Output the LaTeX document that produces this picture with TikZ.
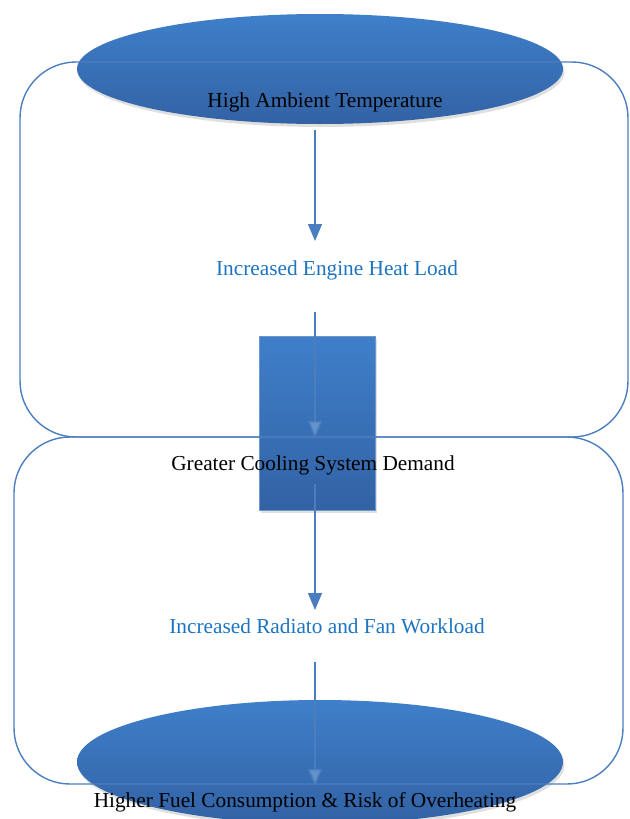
\documentclass[tikz,border=0pt]{standalone}
\usepackage{fontspec}
\setmainfont{Liberation Serif}
\usetikzlibrary{arrows.meta,shadows,shapes.geometric}
\definecolor{linec}{RGB}{74,126,191}
\definecolor{filltop}{RGB}{63,127,202}
\definecolor{fillbot}{RGB}{50,98,164}
\definecolor{btext}{RGB}{28,116,192}
\tikzset{
  frame/.style={draw=linec, line width=1.4pt, rounded corners=56pt},
  blob/.style={ellipse, draw=none, top color=filltop, bottom color=fillbot,
    drop shadow={opacity=0.25, shadow xshift=1.5pt, shadow yshift=-3pt}},
  blockbox/.style={rectangle, draw=linec!80!white, line width=0.6pt, top color=filltop, bottom color=fillbot,
    drop shadow={opacity=0.25, shadow xshift=2pt, shadow yshift=-3pt}},
  txt/.style={font=\fontsize{21.3}{25}\selectfont, text=black, inner sep=0pt},
  btxt/.style={font=\fontsize{21.3}{25}\selectfont, text=btext, inner sep=0pt},
  arr/.style={draw=linec, line width=1.4pt, -{Triangle[width=14pt,length=17pt]}},
  arrfaint/.style={draw=linec, line width=1.4pt, -{Triangle[width=14pt,length=17pt,fill=linec!85!white]}}
}
\begin{document}
\begin{tikzpicture}[x=1pt,y=-1pt]
\useasboundingbox (0,0) rectangle (629,819);
% shapes
\node[blob, minimum width=486pt, minimum height=110pt] (e1) at (320,69) {};
\node[blockbox, minimum width=116pt, minimum height=174pt] (b3) at (317,423) {};
\node[blob, minimum width=486pt, minimum height=124pt] (e5) at (320,762) {};
% frames drawn on top
\draw[frame] (20,62) rectangle (628,437);
\draw[frame] (14,437) rectangle (623,784);
% texts
\node[txt] (t1) at (325,102) {High Ambient Temperature};
\node[btxt] (t2) at (337,270) {Increased Engine Heat Load};
\node[txt] (t3) at (313,465) {Greater Cooling System Demand};
\node[btxt] (t4) at (327,626) {Increased Radiato and Fan Workload};
\node[txt] (t5) at (305,802) {Higher Fuel Consumption \& Risk of Overheating};
% arrow endpoints
\coordinate (a1s) at (315,130);
\coordinate (a1e) at (315,241);
\coordinate (a2s) at (315,312);
\coordinate (a2e) at (315,438);
\coordinate (a3s) at (315,484);
\coordinate (a3e) at (315,610);
\coordinate (a4s) at (315,662);
\coordinate (a4e) at (315,786);
\draw[arr] (a1s) -- (a1e);
\draw[arrfaint] (a2s) -- (a2e);
\draw[arr] (a3s) -- (a3e);
\draw[arrfaint] (a4s) -- (a4e);
\end{tikzpicture}
\end{document}
